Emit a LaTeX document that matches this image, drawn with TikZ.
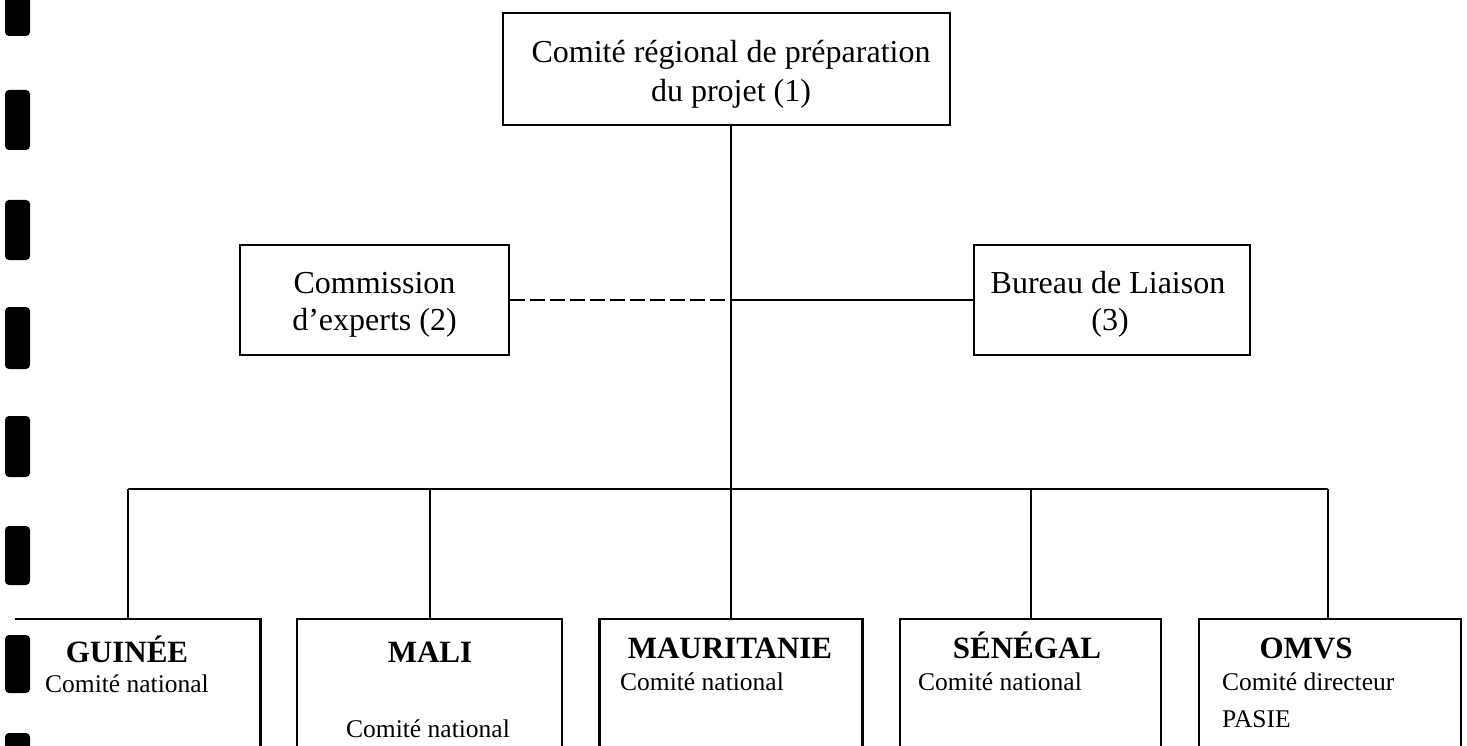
\documentclass[tikz,border=0pt]{standalone}
\usepackage{fontspec}
\setmainfont{Liberation Serif}
\newcommand\mymainfnt{\fontsize{32}{37}\selectfont}
\newcommand\myttlfnt{\fontsize{31}{37}\selectfont\bfseries}
\newcommand\mysubfnt{\fontsize{25.5}{30}\selectfont}
\begin{document}
\begin{tikzpicture}[x=1pt,y=-1pt,
  box/.style={draw, line width=2.6pt, inner sep=0pt},
  lnk/.style={line width=2.6pt},
  dlnk/.style={line width=2.6pt, dash pattern=on 15pt off 5pt},
  bar/.style={fill=black, rounded corners=4pt},
  txt/.style={inner sep=0pt, anchor=base, font=\mymainfnt},
  ttl/.style={inner sep=0pt, anchor=base, font=\myttlfnt},
  subl/.style={inner sep=0pt, anchor=base west, font=\mysubfnt},
  subc/.style={inner sep=0pt, anchor=base, font=\mysubfnt},
]
\useasboundingbox (0,0) rectangle (1467,746);
\clip (0,0) rectangle (1467,746);
\fill[white] (0,0) rectangle (1467,746);

% binder marks on the left edge
\foreach \a/\b in {-5/36, 90/150, 200/260, 307/369, 416/477, 526/585, 635/693, 733/770}
  \fill[bar] (5,\a) rectangle (30,\b);

% boxes
\node[box, minimum width=447pt, minimum height=112pt] (top) at (726.5,69) {};
\node[box, minimum width=269pt, minimum height=110pt] (comm) at (374.5,300) {};
\node[box, minimum width=276pt, minimum height=110pt] (bur) at (1112,300) {};
\node[inner sep=0pt, minimum width=245pt, minimum height=180pt] (guinee) at (137.5,709) {};
\node[box, minimum width=265pt, minimum height=180pt] (mali) at (429.5,709) {};
\node[box, minimum width=263pt, minimum height=180pt] (maur) at (731,709) {};
\node[box, minimum width=261pt, minimum height=180pt] (sen) at (1030.5,709) {};
\node[box, minimum width=262pt, minimum height=180pt] (omvs) at (1330,709) {};
\draw[lnk] (guinee.north west) -- (guinee.north east) -- (guinee.south east);

% texts
\node[txt] (t1) at (731,63) {Comité régional de préparation};
\node[txt] (t2) at (731,102) {du projet (1)};
\node[txt] (c1) at (374.5,293) {Commission};
\node[txt] (c2) at (374.5,330) {d’experts (2)};
\node[txt] (b1) at (1108,293) {Bureau de Liaison};
\node[txt] (b2) at (1110,330) {(3)};

\node[ttl] (gt) at (127,662) {GUINÉE};
\node[subl] (gs) at (45,692) {Comité national};
\node[ttl] (mt) at (430,662) {MALI};
\node[subc] (ms) at (428,737) {Comité national};
\node[ttl] (rt) at (730,658) {MAURITANIE};
\node[subl] (rs) at (620,690) {Comité national};
\node[ttl] (st) at (1027,658) {SÉNÉGAL};
\node[subl] (ss) at (918,690) {Comité national};
\node[ttl] (ot) at (1306,658) {OMVS};
\node[subl] (os1) at (1222,690) {Comité directeur};
\node[subl] (os2) at (1222,727) {PASIE};

% connectors
\coordinate (hub) at (731,300);
\coordinate (dG) at (128,489);
\coordinate (dM) at (430,489);
\coordinate (dR) at (731,489);
\coordinate (dS) at (1031,489);
\coordinate (dO) at (1328,489);
\draw[lnk] (top.south -| hub) -- (hub) -- (maur.north);
\draw[dlnk] (comm.east) -- (hub);
\draw[lnk] (hub) -- (bur.west);
\draw[lnk] (dG) -- (dO);
\draw[lnk] (dG) -- (dG |- guinee.north);
\draw[lnk] (dM) -- (dM |- mali.north);
\draw[lnk] (dS) -- (dS |- sen.north);
\draw[lnk] (dO) -- (dO |- omvs.north);
\end{tikzpicture}
\end{document}
